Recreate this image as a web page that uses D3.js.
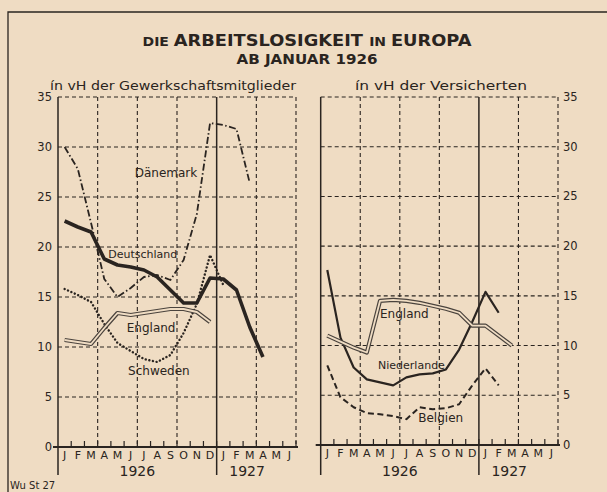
<!DOCTYPE html>
<html>
<head>
<meta charset="utf-8">
<script src="https://cdn.jsdelivr.net/npm/d3@7"></script>
<style>
body { margin: 0; background: #efdcc3; }
svg { display: block; }
text { font-family: "DejaVu Sans", sans-serif; fill: #2a2420; }
</style>
</head>
<body>
<div id="chart"></div>
<script>
const width = 607, height = 492;
const ink = "#2a2420", paper = "#efdcc3";

// month letters, Jan 1926 .. Jun 1927
const monthLabels = ["J","F","M","A","M","J","J","A","S","O","N","D","J","F","M","A","M","J"];
const yearLabels = ["1926", "1927"];
const yTicks = [0, 5, 10, 15, 20, 25, 30, 35];

// left panel: in vH der Gewerkschaftsmitglieder (monthly from Jan 1926)
const deutschland = [22.6, 22.0, 21.5, 18.8, 18.2, 18.0, 17.7, 17.0, 15.7, 14.4, 14.4, 16.9, 16.8, 15.7, 12.0, 9.0];
const daenemark   = [30.0, 27.8, 22.4, 16.8, 15.0, 15.9, 17.0, 17.2, 16.7, 18.7, 23.3, 32.4, 32.2, 31.8, 26.4];
const schweden    = [15.8, 15.2, 14.5, 12.3, 10.4, 9.6, 8.8, 8.5, 9.2, 11.4, 14.3, 19.2, 16.2];
const englandL    = [10.7, 10.5, 10.3, 11.9, 13.4, 13.2, 13.4, 13.6, 13.8, 13.8, 13.5, 12.5];

// right panel: in vH der Versicherten
const englandR    = [11.0, 10.4, 9.8, 9.3, 14.5, 14.6, 14.5, 14.3, 14.0, 13.7, 13.3, 12.0, 12.0, 11.0, 10.0];
const niederlande = [17.6, 10.8, 7.8, 6.6, 6.3, 6.0, 6.8, 7.1, 7.2, 7.6, 9.6, 12.4, 15.4, 13.3];
const belgien     = [8.0, 4.8, 3.8, 3.2, 3.1, 2.9, 2.6, 3.8, 3.6, 3.7, 4.1, 6.0, 7.7, 6.0];

const panels = [
    {
        x0: 58, x1: 296, yBottom: 447, labelSide: "left",
        subtitle: "ín vH der Gewerkschaftsmitglieder", subX: 50, subLen: 246,
        series: [
            { name: "Dänemark", values: daenemark, style: "dashdot", lx: 5.8, ly: 27.0, fs: 12 },
            { name: "Schweden", values: schweden, style: "dot", lx: 5.3, ly: 7.2, fs: 12 },
            { name: "England", values: englandL, style: "double", lx: 5.2, ly: 11.5, fs: 12 },
            { name: "Deutschland", values: deutschland, style: "heavy", lx: 3.8, ly: 18.9, fs: 11 }
        ]
    },
    {
        x0: 320.7, x1: 558, yBottom: 445, labelSide: "right",
        subtitle: "ín vH der Versicherten", subX: 355, subLen: 172,
        series: [
            { name: "Belgien", values: belgien, style: "dash", lx: 7.4, ly: 2.35, fs: 12 },
            { name: "Niederlande", values: niederlande, style: "solid", lx: 4.35, ly: 7.65, fs: 11 },
            { name: "England", values: englandR, style: "double", lx: 4.5, ly: 12.8, fs: 12 }
        ]
    }
];

const svg = d3.select("#chart").append("svg")
    .attr("width", width)
    .attr("height", height);

svg.append("rect").attr("width", width).attr("height", height).attr("fill", paper);

// outer frame lines
svg.append("path")
    .attr("d", "M8,492 L8,12 L607,12")
    .attr("fill", "none").attr("stroke", ink).attr("stroke-width", 1.3);

// titles
const title = svg.append("text")
    .attr("x", 307).attr("y", 46)
    .attr("text-anchor", "middle")
    .attr("font-weight", "bold")
    .attr("textLength", 329)
    .attr("lengthAdjust", "spacingAndGlyphs");
title.append("tspan").attr("font-size", 13).text("DIE ");
title.append("tspan").attr("font-size", 16.5).text("ARBEITSLOSIGKEIT ");
title.append("tspan").attr("font-size", 13).text("IN ");
title.append("tspan").attr("font-size", 16.5).text("EUROPA");

svg.append("text")
    .attr("x", 307).attr("y", 64)
    .attr("text-anchor", "middle")
    .attr("font-weight", "bold")
    .attr("font-size", 14)
    .attr("textLength", 141)
    .attr("lengthAdjust", "spacingAndGlyphs")
    .text("AB JANUAR 1926");

svg.append("text")
    .attr("x", 10).attr("y", 489)
    .attr("font-size", 10)
    .text("Wu St 27");

panels.forEach(function (p) {
    const x = d3.scaleLinear().domain([0, 18]).range([p.x0, p.x1]);
    const y = d3.scaleLinear().domain([0, 35]).range([p.yBottom, 97]);
    const g = svg.append("g");

    g.append("text")
        .attr("x", p.subX).attr("y", 90)
        .attr("font-size", 13)
        .attr("textLength", p.subLen)
        .attr("lengthAdjust", "spacingAndGlyphs")
        .text(p.subtitle);

    // horizontal dashed grid
    g.selectAll(".hgrid")
        .data(yTicks.filter(function (d) { return d > 0; }))
        .enter().append("line")
        .attr("x1", x(0)).attr("x2", x(18))
        .attr("y1", function (d) { return y(d); })
        .attr("y2", function (d) { return y(d); })
        .attr("stroke", ink).attr("stroke-width", 1.1)
        .attr("stroke-dasharray", "4,3");

    // vertical dashed grid at quarters
    g.selectAll(".vgrid")
        .data([3, 6, 9, 15, 18])
        .enter().append("line")
        .attr("x1", function (d) { return x(d); })
        .attr("x2", function (d) { return x(d); })
        .attr("y1", y(35)).attr("y2", y(0))
        .attr("stroke", ink).attr("stroke-width", 1.1)
        .attr("stroke-dasharray", "4,3");

    // solid year lines
    g.selectAll(".yline")
        .data([0, 12])
        .enter().append("line")
        .attr("x1", function (d) { return x(d); })
        .attr("x2", function (d) { return x(d); })
        .attr("y1", y(35)).attr("y2", 475)
        .attr("stroke", ink).attr("stroke-width", 1.5);

    // baseline and month ticks
    g.append("line")
        .attr("x1", x(0) - 5).attr("x2", x(18) + 2)
        .attr("y1", y(0)).attr("y2", y(0))
        .attr("stroke", ink).attr("stroke-width", 1.8);

    g.selectAll(".tick")
        .data(d3.range(1, 19))
        .enter().append("line")
        .attr("x1", function (d) { return x(d); })
        .attr("x2", function (d) { return x(d); })
        .attr("y1", y(0) - 6).attr("y2", y(0))
        .attr("stroke", ink).attr("stroke-width", 1.2);

    g.selectAll(".mlabel")
        .data(monthLabels)
        .enter().append("text")
        .attr("x", function (d, i) { return x(i + 0.5); })
        .attr("y", y(0) + 12)
        .attr("text-anchor", "middle")
        .attr("font-size", 11)
        .text(function (d) { return d; });

    g.selectAll(".ylabel")
        .data(yearLabels)
        .enter().append("text")
        .attr("x", function (d, i) { return i === 0 ? x(6) : x(14.3); })
        .attr("y", 476)
        .attr("text-anchor", "middle")
        .attr("font-size", 14)
        .text(function (d) { return d; });

    // value labels
    g.selectAll(".vlabel")
        .data(yTicks)
        .enter().append("text")
        .attr("x", p.labelSide === "left" ? x(0) - 6 : x(18) + 5)
        .attr("y", function (d) { return y(d); })
        .attr("dy", "0.35em")
        .attr("text-anchor", p.labelSide === "left" ? "end" : "start")
        .attr("font-size", 11.5)
        .text(function (d) { return d; });

    const line = d3.line()
        .x(function (d, i) { return x(i + 0.5); })
        .y(function (d) { return y(d); });

    p.series.forEach(function (s) {
        const path = line(s.values);
        if (s.style === "double") {
            g.append("path").attr("d", path).attr("fill", "none")
                .attr("stroke", "#4a433d").attr("stroke-width", 4.2)
                .attr("stroke-linejoin", "round");
            g.append("path").attr("d", path).attr("fill", "none")
                .attr("stroke", paper).attr("stroke-width", 1.8)
                .attr("stroke-linejoin", "round");
        } else {
            const el = g.append("path").attr("d", path).attr("fill", "none")
                .attr("stroke", ink).attr("stroke-linejoin", "round");
            if (s.style === "heavy") el.attr("stroke-width", 3.6);
            if (s.style === "solid") el.attr("stroke-width", 2.2);
            if (s.style === "dash") el.attr("stroke-width", 2).attr("stroke-dasharray", "6,3.5");
            if (s.style === "dashdot") el.attr("stroke-width", 1.8).attr("stroke-dasharray", "7,2.5,1.5,2.5");
            if (s.style === "dot") el.attr("stroke-width", 2.4).attr("stroke-linecap", "round").attr("stroke-dasharray", "0.1,3.6");
        }
        g.append("text")
            .attr("x", x(s.lx)).attr("y", y(s.ly))
            .attr("font-size", s.fs)
            .text(s.name);
    });
});
</script>
</body>
</html>
